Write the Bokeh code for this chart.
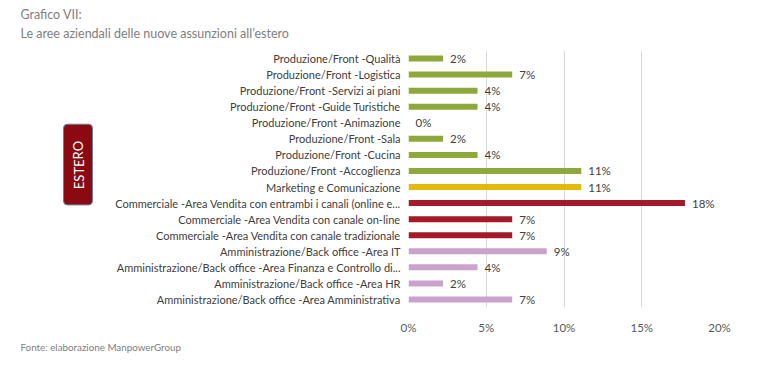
from bokeh.plotting import figure
from bokeh.layouts import column, row
from bokeh.models import ColumnDataSource, NumeralTickFormatter, FixedTicker, Range1d
from bokeh.core.properties import value
from bokeh.embed import file_html
from bokeh.resources import INLINE

categories = [
    "Produzione/Front -Qualità",
    "Produzione/Front -Logistica",
    "Produzione/Front -Servizi ai piani",
    "Produzione/Front -Guide Turistiche",
    "Produzione/Front -Animazione",
    "Produzione/Front -Sala",
    "Produzione/Front -Cucina",
    "Produzione/Front -Accoglienza",
    "Marketing e Comunicazione",
    "Commerciale -Area Vendita con entrambi i canali (online e...",
    "Commerciale -Area Vendita con canale on-line",
    "Commerciale -Area Vendita con canale tradizionale",
    "Amministrazione/Back office -Area IT",
    "Amministrazione/Back office -Area Finanza e Controllo di...",
    "Amministrazione/Back office -Area HR",
    "Amministrazione/Back office -Area Amministrativa",
]
values = [2.22, 6.67, 4.44, 4.44, 0.0, 2.22, 4.44, 11.11, 11.11, 17.78, 6.67, 6.67, 8.89, 4.44, 2.22, 6.67]
groups = ["prod"] * 8 + ["mkt"] + ["comm"] * 3 + ["amm"] * 4
group_colors = {"prod": "#8fa83c", "mkt": "#e5b80c", "comm": "#a31a2b", "amm": "#cba2cc"}
x_ticks = [0, 5, 10, 15, 20]

title_line1 = "Grafico VII:"
title_line2 = "Le aree aziendali delle nuove assunzioni all\u2019estero"
footer_text = "Fonte: elaborazione ManpowerGroup"
side_label = "ESTERO"

FONT = "Lato"
W = 752
HEAD_H, MAIN_H, FOOT_H = 42, 294, 22
LEFT_W = 110
TXT = "#808080"
FRAME_TOP, FRAME_BOTTOM = 50, 308   # page y of the plotting area


def blank(width, height, y0=0, y1=None, **kw):
    f = figure(width=width, height=height, output_backend="svg", toolbar_location=None,
               x_range=Range1d(0, width), y_range=Range1d(y1 if y1 is not None else height, y0),
               x_axis_type=None, y_axis_type=None, min_border=0, **kw)
    f.outline_line_color = None
    f.grid.visible = False
    return f


# --- header ---
head = blank(W, HEAD_H)
head.text(x=[20, 20], y=[14, 33], text=[title_line1, title_line2], text_baseline="middle",
          text_font_size="12.5px", text_color=TXT, text_font=value(FONT))

# --- side tag (its frame lines up with the chart frame: page y 50..308) ---
side = blank(LEFT_W, MAIN_H, y0=FRAME_TOP, y1=FRAME_BOTTOM,
             min_border_top=FRAME_TOP - HEAD_H, min_border_bottom=HEAD_H + MAIN_H - FRAME_BOTTOM)
side.quad(left=[63], right=[92], top=[124], bottom=[205],
          fill_color="#8b0a12", line_color="#6f7f9f", line_width=1, border_radius=4)
side.text(x=[78], y=[165], text=[side_label], angle=1.5708,
          text_align="center", text_baseline="middle",
          text_font_size="13px", text_color="white", text_font=value(FONT))

# --- main chart ---
src = ColumnDataSource(dict(
    cat=categories,
    val=values,
    color=[group_colors[g] for g in groups],
    lab=[f"{round(v):d}%" for v in values],
))

MW = W - LEFT_W
p = figure(width=MW, height=MAIN_H, output_backend="svg", toolbar_location=None,
           y_range=list(reversed(categories)), x_range=Range1d(0, 20),
           min_border_left=408 - LEFT_W, min_border_right=W - 719,
           min_border_top=FRAME_TOP - HEAD_H, min_border_bottom=HEAD_H + MAIN_H - FRAME_BOTTOM)
p.outline_line_color = None

p.hbar(y="cat", right="val", left=0, height=0.37, color="color", line_color=None, source=src)
p.text(x="val", y="cat", text="lab", source=src, x_offset=7, text_baseline="middle",
       text_font_size="11.5px", text_color="#404040", text_font=value(FONT))

p.xaxis.ticker = FixedTicker(ticks=x_ticks)
p.xaxis.formatter = NumeralTickFormatter(format="0")
p.xaxis.major_label_overrides = {t: f"{t}%" for t in x_ticks}
p.xaxis.axis_line_color = None
p.xaxis.major_tick_line_color = None
p.xaxis.minor_tick_line_color = None
p.xaxis.major_label_text_font_size = "11.5px"
p.xaxis.major_label_text_color = "#595959"
p.xaxis.major_label_text_font = FONT
p.xaxis.major_label_standoff = 7

p.yaxis.axis_line_color = None
p.yaxis.major_tick_line_color = None
p.yaxis.major_label_text_font_size = "11px"
p.yaxis.major_label_text_color = "#404040"
p.yaxis.major_label_text_font = FONT
p.yaxis.major_label_standoff = 2

p.xgrid.grid_line_color = "#d9d9d9"
p.ygrid.grid_line_color = None

# --- footer ---
foot = blank(W, FOOT_H)
foot.text(x=[20], y=[10], text=[footer_text], text_baseline="middle",
          text_font_size="9.8px", text_color=TXT, text_font=value(FONT))

layout = column(head, row(side, p, spacing=0), foot, spacing=0)

open("out.html", "w").write(file_html(layout, INLINE))
